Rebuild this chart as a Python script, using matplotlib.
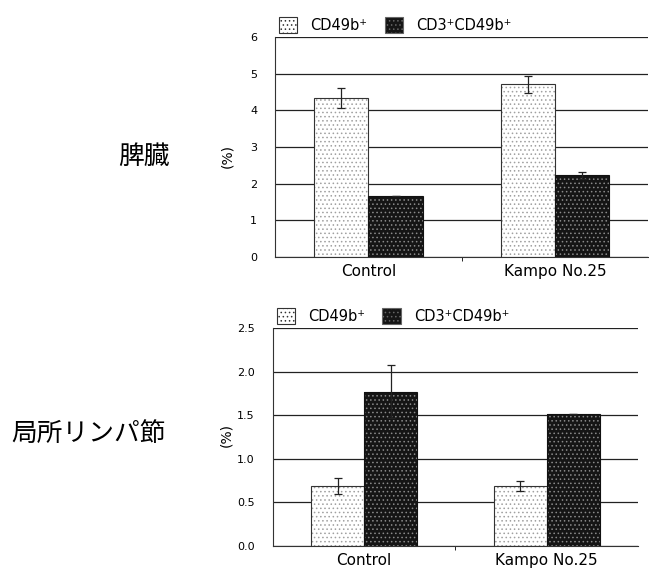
import matplotlib.pyplot as plt
import numpy as np

plt.rcParams['font.family'] = ['DejaVu Sans', 'Noto Sans CJK JP']
plt.rcParams['hatch.linewidth'] = 0.6

groups = ['Control', 'Kampo No.25']
series = ['CD49b⁺', 'CD3⁺CD49b⁺']

# spleen (脾臓)
spleen_cd49b = [4.33, 4.71]
spleen_cd49b_err = [0.27, 0.23]
spleen_cd3 = [1.65, 2.23]
spleen_cd3_err = [0.0, 0.1]

# local lymph node (局所リンパ節)
lymph_cd49b = [0.69, 0.69]
lymph_cd49b_err = [0.09, 0.06]
lymph_cd3 = [1.77, 1.51]
lymph_cd3_err = [0.3, 0.0]

organs = ['脾臓', '局所リンパ節']

fig = plt.figure(figsize=(6.49, 5.73), dpi=100)
ax1 = fig.add_axes([0.424, 0.5515, 0.575, 0.384])
ax2 = fig.add_axes([0.4206, 0.0471, 0.5624, 0.3805])

light = dict(facecolor='white', edgecolor='#a0a0a0', hatch='....')
dark = dict(facecolor='#151515', edgecolor='#8a8a8a', hatch='....')


def panel(ax, a, aerr, b, berr, ymax, step, fmt):
    x = np.arange(len(groups))
    w = 0.29
    ax.bar(x - w / 2, a, w, linewidth=0, **light)
    ax.bar(x + w / 2, b, w, linewidth=0, **dark)
    ax.bar(x - w / 2, a, w, fill=False, edgecolor='#333333', linewidth=0.8)
    ax.bar(x + w / 2, b, w, fill=False, edgecolor='#111111', linewidth=0.8)
    ax.errorbar(x - w / 2, a, yerr=aerr, fmt='none', ecolor='#222222',
                elinewidth=0.9, capsize=3, capthick=0.9)
    ax.errorbar(x + w / 2, b, yerr=berr, fmt='none', ecolor='#222222',
                elinewidth=0.9, capsize=3, capthick=0.9)
    ax.set_xlim(-0.5, 1.5)
    ax.set_ylim(0, ymax)
    ticks = np.arange(0, ymax + step / 2, step)
    ax.set_yticks(ticks)
    ax.set_yticklabels([fmt.format(t) for t in ticks], fontsize=8)
    ax.yaxis.grid(True, color='#222222', linewidth=0.9)
    ax.set_axisbelow(True)
    ax.set_xticks([0.5], minor=True)
    ax.tick_params(axis='x', which='minor', length=3, direction='out')
    ax.set_xticks(x)
    ax.set_xticklabels(groups, fontsize=11)
    ax.tick_params(axis='x', which='major', length=0, pad=5)
    ax.tick_params(axis='y', length=0, pad=13)
    for s in ['top', 'right']:
        ax.spines[s].set_visible(False)
    ax.spines['left'].set_color('#333333')
    ax.spines['bottom'].set_color('#333333')
    ax.set_ylabel('(%)', fontsize=10)
    h1 = plt.Rectangle((0, 0), 1, 1, facecolor='white', edgecolor='#333333', hatch='....', linewidth=0.8)
    h2 = plt.Rectangle((0, 0), 1, 1, facecolor='#151515', edgecolor='#666666', hatch='....', linewidth=0.8)
    ax.legend([h1, h2], series, loc='lower left', bbox_to_anchor=(-0.01, 0.985), ncol=2,
              frameon=False, fontsize=10.5, handlelength=1.25, handleheight=1.25,
              handletextpad=0.9, columnspacing=1.2, borderaxespad=0.1)


panel(ax1, spleen_cd49b, spleen_cd49b_err, spleen_cd3, spleen_cd3_err, 6, 1, '{:.0f}')
panel(ax2, lymph_cd49b, lymph_cd49b_err, lymph_cd3, lymph_cd3_err, 2.5, 0.5, '{:.1f}')
ax1.yaxis.set_label_coords(-0.111, 0.46)
ax2.yaxis.set_label_coords(-0.108, 0.51)

fig.text(0.221, 1 - 157 / 573, organs[0], fontsize=18.5, ha='center', va='center',
         family=['Noto Sans CJK JP'])
fig.text(0.136, 1 - 434 / 573, organs[1], fontsize=18.5, ha='center', va='center',
         family=['Noto Sans CJK JP'])

fig.savefig('out.png', dpi=100)
